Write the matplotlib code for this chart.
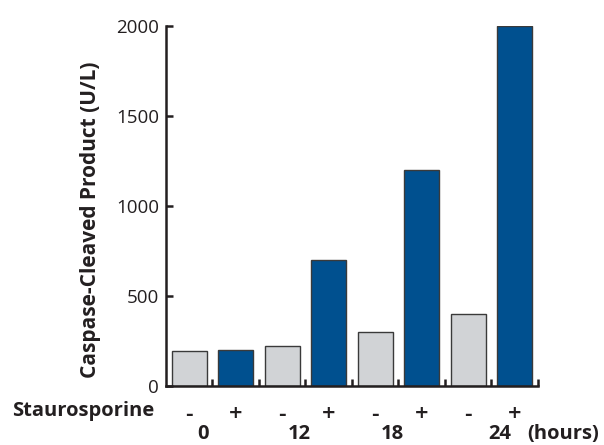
import matplotlib
matplotlib.use("Agg")
import matplotlib.pyplot as plt
import numpy as np

signs = ["-", "+", "-", "+", "-", "+", "-", "+"]
values = [195, 200, 220, 700, 300, 1200, 400, 2000]
hours = ["0", "12", "18", "24"]
hour_pos = [0.29, 2.37, 4.37, 6.68]
yticks = [0, 500, 1000, 1500, 2000]

plt.rcParams['font.family'] = ['Open Sans', 'DejaVu Sans']

fig = plt.figure(figsize=(6.04, 4.45), dpi=100)
ax = fig.add_axes([0.2748, 0.1326, 0.8907 - 0.2748, 0.9416 - 0.1326])

gray = "#d1d3d6"
blue = "#00508f"
ink = "#231f20"
colors = [gray if s == "-" else blue for s in signs]
x = np.arange(len(values))
ax.bar(x, values, width=0.75, color=colors, edgecolor="#3a3a3a", linewidth=1.0)

ax.set_xlim(-0.5, 7.5)
ax.set_ylim(0, 2000)
for s in ["top", "right"]:
    ax.spines[s].set_visible(False)
for s in ["left", "bottom"]:
    ax.spines[s].set_linewidth(1.8)
    ax.spines[s].set_color(ink)

ax.set_yticks(yticks)
ax.set_yticklabels([str(v) for v in yticks], fontsize=13.5, color=ink)
ax.tick_params(axis="y", direction="in", length=5, width=1.8, pad=5, color=ink)
ax.set_xticks(x + 0.5)
ax.set_xticklabels([])
ax.tick_params(axis="x", direction="in", length=5, width=1.8, color=ink)

ax.set_ylabel("Caspase-Cleaved Product (U/L)", fontsize=15, fontweight="bold",
              color=ink, va="center")
ax.yaxis.set_label_coords(-0.2016, 0.4625)

trans = ax.get_xaxis_transform()
for xi, s in zip(x, signs):
    ax.text(xi, -0.081, s, transform=trans, ha="center", va="center",
            fontsize=17, fontweight="semibold", color=ink)
for p, h in zip(hour_pos, hours):
    ax.text(p, -0.148, h, transform=trans, ha="center", va="baseline",
            fontsize=14.5, fontweight="bold", color=ink)
ax.text(7.26, -0.148, "(hours)", transform=trans, ha="left", va="baseline",
        fontsize=14.5, fontweight="bold", color=ink)
fig.text(12 / 604, 1 - 416 / 445, "Staurosporine", ha="left", va="baseline",
         fontsize=14.5, fontweight="bold", color=ink)

fig.savefig("out.png", dpi=100)
